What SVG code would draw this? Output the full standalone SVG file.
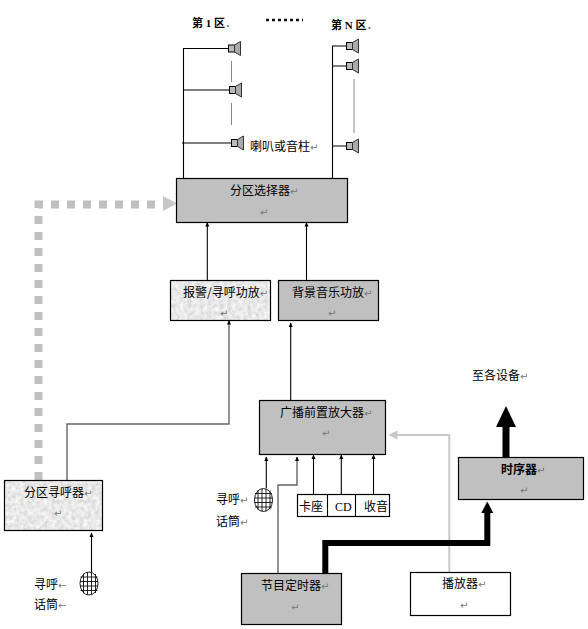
<svg xmlns="http://www.w3.org/2000/svg" width="588" height="629" viewBox="0 0 588 629">
<style>
text{font-family:"Noto Sans CJK SC","Liberation Sans",sans-serif;font-size:12px;fill:#000}
.b{font-weight:bold}
.s{font-family:"Liberation Serif","Noto Sans CJK SC",serif;font-weight:bold;font-size:11px}
.m{font-family:"DejaVu Sans",sans-serif;font-size:10px;fill:#777}
.box{stroke:#000;stroke-width:1.2}
.g{fill:#c0c0c0}
.w{fill:#fff}
.l{fill:none;stroke:#000;stroke-width:1.1}
.gl{fill:none;stroke:#666;stroke-width:1.4}
.thin{fill:none;stroke:#888;stroke-width:1}
.sq{fill:#bbb;stroke:#000;stroke-width:1}
.cone{fill:#aaa;stroke:#333;stroke-width:1}
.tex{stroke:none;fill:#eee;filter:url(#noise)}
.mic{fill:#fff;stroke:#222;stroke-width:1}
</style>
<defs>
<filter id="noise" x="0" y="0" width="100%" height="100%">
<feTurbulence type="fractalNoise" baseFrequency="0.25" numOctaves="3" seed="4"/>
<feColorMatrix type="matrix" values="0 0 0 0 0.97 0 0 0 0 0.97 0 0 0 0 0.97 1.6 0 0 0 -0.35"/>
<feComposite in2="SourceGraphic" operator="in" result="n"/>
<feFlood flood-color="#d8d8d8"/>
<feComposite in2="SourceGraphic" operator="in"/>
<feMerge><feMergeNode/><feMergeNode in="n"/></feMerge>
</filter>
<marker id="ah" markerWidth="5" markerHeight="5" refX="4" refY="2.500" orient="auto" markerUnits="userSpaceOnUse"><path d="M0,0.500L4.500,2.500L0,4.500z" fill="#000"/></marker>
<g id="spk"><rect class="sq" x="0" y="-3.500" width="6" height="7"/><path class="cone" d="M6,-3.500L12,-7V7L6,3.500z"/></g>
<g id="micg">
<ellipse class="mic" cx="9" cy="11.500" rx="9" ry="11.500"/>
<path d="M0.500,5H17.500M0,9.500H18M0,14H18M0.500,18.500H17.500M3.500,1.500V21.500M7.500,0.200V22.800M11.500,0.200V22.800M15.500,2V21" fill="none" stroke="#111" stroke-width="0.9"/>
</g>
</defs>
<g id="connectors">
<path class="l" d="M183.500,178V48.500H228M183.500,90H229M182,143H231"/>
<path class="thin" d="M231.500,61V82M231.500,103V125M354,79V133"/>
<path class="l" d="M332.500,179V46H346M332.500,66H346M332.500,146H346"/>
<path class="l" marker-end="url(#ah)" d="M207.300,280V222.500"/>
<path class="l" marker-end="url(#ah)" d="M306.500,280V222.500"/>
<path class="gl" marker-end="url(#ah)" d="M67,480V424H229V320.500"/>
<path class="l" marker-end="url(#ah)" d="M290.700,400V323"/>
<path class="l" marker-end="url(#ah)" d="M91.500,572V533"/>
<path class="l" marker-end="url(#ah)" d="M266.300,488V457"/>
<path class="gl" marker-end="url(#ah)" d="M278,573V485H297V457"/>
<path class="l" marker-end="url(#ah)" d="M313.500,494V455"/>
<path class="l" marker-end="url(#ah)" d="M341.300,494V455"/>
<path class="l" marker-end="url(#ah)" d="M373.500,494V455"/>
<path d="M38.500,480V204.500H163" fill="none" stroke="#c0c0c0" stroke-width="8" stroke-dasharray="8 8"/>
<path d="M163,196L177,203.500L163,211z" fill="#c8c8c8"/>
<path d="M449.300,572V435H397" fill="none" stroke="#c8c8c8" stroke-width="2"/>
<path d="M397.500,430.500L388,435L397.500,439.500z" fill="#c8c8c8"/>
<path d="M325.300,573V543H487.300V513" fill="none" stroke="#000" stroke-width="6"/>
<path d="M481.300,513H493.300L487.300,501.500z" fill="#000"/>
<path d="M506,457V426" fill="none" stroke="#000" stroke-width="7"/>
<path d="M496,427H516L506,406z" fill="#000"/>
<path d="M266,20H303" fill="none" stroke="#111" stroke-width="2.500" stroke-dasharray="3 3"/>
</g>
<g id="speakers">
<use href="#spk" x="228.500" y="48.500"/>
<use href="#spk" x="229.500" y="90"/>
<use href="#spk" x="231.500" y="143"/>
<use href="#spk" x="346.500" y="46"/>
<use href="#spk" x="346.500" y="66"/>
<use href="#spk" x="346.500" y="146"/>
</g>
<g id="zone-labels">
<text x="192" y="27" class="s">第 1 区<tspan class="m" dx="1">.</tspan></text>
<text x="331" y="29" class="s">第 N 区<tspan class="m" dx="1">.</tspan></text>
<text x="250" y="151">喇叭或音柱<tspan class="m">↵</tspan></text>
</g>
<g id="zone-selector">
<rect class="g box" x="176.500" y="178.500" width="171" height="44"/>
<text x="230" y="195">分区选择器<tspan class="m">↵</tspan></text>
<text x="260" y="216" class="m">↵</text>
</g>
<g id="alarm-amp">
<rect class="tex" x="170.500" y="280.500" width="100" height="40"/>
<rect class="box" fill="none" x="170.500" y="280.500" width="100" height="40"/>
<text x="183" y="297">报警/寻呼功放<tspan class="m">↵</tspan></text>
<text x="220" y="317" class="m">↵</text>
</g>
<g id="music-amp">
<rect class="g box" x="278.500" y="280.500" width="100" height="40"/>
<text x="292" y="297">背景音乐功放<tspan class="m">↵</tspan></text>
<text x="328" y="317" class="m">↵</text>
</g>
<g id="preamp">
<rect class="g box" x="259.500" y="400.500" width="126" height="54"/>
<text x="280" y="417">广播前置放大器<tspan class="m">↵</tspan></text>
<text x="322" y="437" class="m">↵</text>
</g>
<g id="zone-pager">
<rect class="tex" x="4.500" y="480.500" width="98" height="50"/>
<rect class="box" fill="none" x="4.500" y="480.500" width="98" height="50"/>
<text x="24" y="497">分区寻呼器<tspan class="m">↵</tspan></text>
<text x="54" y="517" class="m">↵</text>
</g>
<g id="sources">
<rect class="w box" x="297.500" y="494.500" width="92" height="22"/>
<path class="l" d="M327.500,494.500V516.500M355.500,494.500V516.500"/>
<text x="299" y="511">卡座</text>
<text x="335" y="511" style="font-family:'Liberation Serif',serif">CD</text>
<text x="364" y="511">收音</text>
</g>
<g id="mic-1">
<use href="#micg" x="254.500" y="488.500"/>
<text x="216" y="504">寻呼<tspan class="m">↵</tspan></text>
<text x="216" y="526">话筒<tspan class="m">↵</tspan></text>
</g>
<g id="mic-2">
<use href="#micg" x="80" y="572"/>
<text x="34" y="589">寻呼<tspan class="m">←</tspan></text>
<text x="34" y="609">话筒<tspan class="m">←</tspan></text>
</g>
<g id="program-timer">
<rect class="g box" x="241.500" y="573.500" width="100" height="51"/>
<text x="261" y="590">节目定时器<tspan class="m">↵</tspan></text>
<text x="291" y="611" class="m">↵</text>
</g>
<g id="player">
<rect class="w box" x="410.500" y="572.500" width="100" height="43"/>
<text x="442" y="588">播放器<tspan class="m">↵</tspan></text>
<text x="460" y="609" class="m">↵</text>
</g>
<g id="sequencer">
<rect class="g box" x="458.500" y="457.500" width="125" height="42"/>
<text x="501" y="474" class="b">时序器<tspan class="m" style="font-weight:normal">↵</tspan></text>
<text x="520" y="494" class="m">↵</text>
</g>
<g id="to-devices">
<text x="472" y="380">至各设备<tspan class="m">↵</tspan></text>
</g>
</svg>
